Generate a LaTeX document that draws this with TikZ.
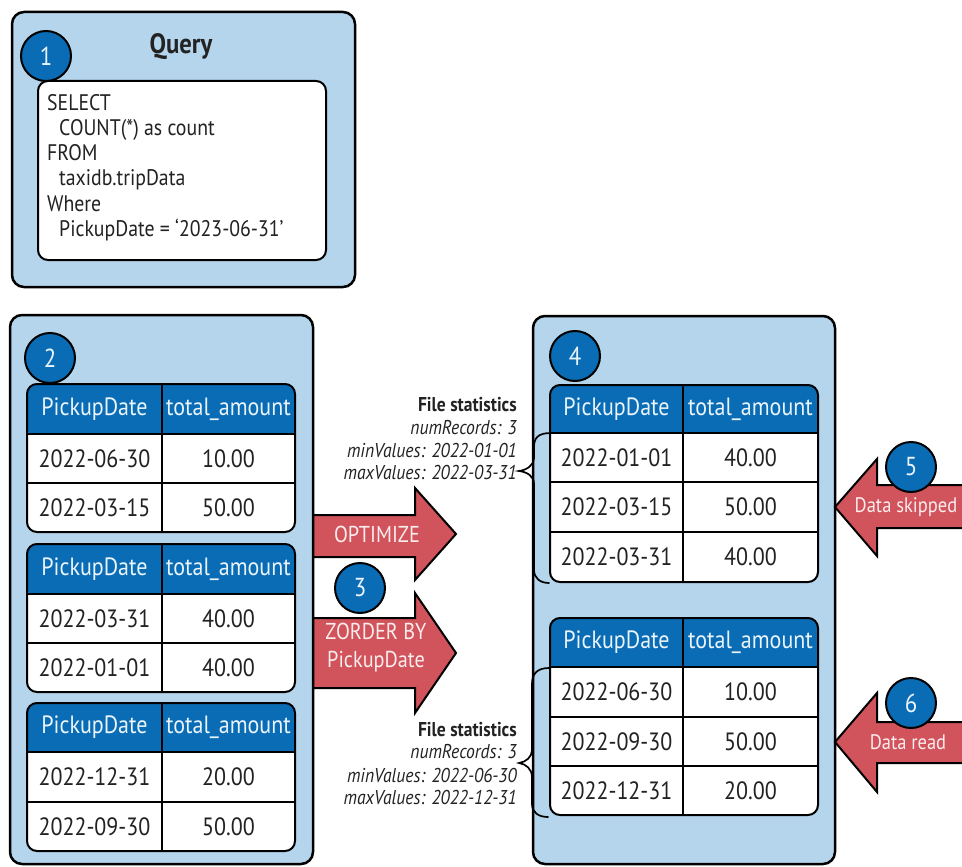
\documentclass[tikz,border=0pt]{standalone}
\usepackage{fontspec}
\setmainfont{PT Sans}[FakeStretch=0.88]
\definecolor{lblue}{HTML}{B4D5EC}
\definecolor{dblue}{HTML}{0B6CB6}
\definecolor{ared}{HTML}{D1535B}
\definecolor{htext}{HTML}{EAF4FB}
\definecolor{atext}{HTML}{FBEDEE}
\definecolor{ink}{HTML}{222222}
\newcommand\tframe[7]{%
  \fill[white, rounded corners=10] (#1,#4) rectangle (#3,#6);
  \begin{scope}
    \clip (#1,#4) rectangle (#3,#5);
    \fill[dblue, rounded corners=10] (#1,#4) rectangle (#3,#6);
  \end{scope}
  \draw[tline] (#1,#5) -- (#3,#5);
  \foreach \yy in {#7} {\draw[tline] (#1,\yy) -- (#3,\yy);}
  \draw[tline] (#2,#4) -- (#2,#6);
  \draw[tline, rounded corners=10] (#1,#4) rectangle (#3,#6);
}
\begin{document}
\begin{tikzpicture}[x=1pt,y=-1pt,
  bigbox/.style={draw=black, fill=lblue, line width=2.5pt, rounded corners=12},
  tline/.style={draw=black, line width=2pt},
  hdr/.style={text=htext, font=\fontsize{25}{28}\selectfont, inner sep=0pt},
  cell/.style={text=ink, font=\fontsize{25}{28}\selectfont, inner sep=0pt},
  num/.style={circle, draw=black, fill=dblue, line width=2pt, minimum size=50pt, inner sep=0pt, text=htext, font=\fontsize{26}{28}\selectfont},
  statb/.style={anchor=east, text=ink, inner sep=0pt, font=\bfseries\fontsize{20}{24}\selectfont},
  stati/.style={anchor=east, text=ink, inner sep=0pt, font=\itshape\fontsize{20}{24}\selectfont},
  arrowfill/.style={fill=ared},
  arrowline/.style={draw=black, line width=2pt, line join=miter},
  atxt/.style={text=atext, inner sep=0pt, font=\fontsize{23}{28}\selectfont, align=center},
  brace/.style={draw=black, line width=1.7pt, line cap=round}]
\useasboundingbox (0,0) rectangle (962,867);

% ---------- Query box ----------
\draw[bigbox] (12,12) rectangle (355,287);
\node[text=ink, font=\bfseries\fontsize{28}{32}\selectfont] (qtitle) at (181,47) {Query};
\draw[fill=white, draw=black, line width=2pt, rounded corners=10] (38,81) rectangle (326,260);
\node[anchor=north west, text=ink, inner sep=0pt, align=left,
      font=\fontsize{22.5}{25.2}\selectfont] (sql) at (47,94)
  {SELECT\\\hspace*{12pt}COUNT(*) as count\\FROM\\\hspace*{12pt}taxidb.tripData\\Where\\\hspace*{12pt}PickupDate = `2023-06-31'};
\node[num] (c1) at (46,56) {1};

% ---------- Arrows (3) ----------
\fill[arrowfill] (313,515) -- (415,515) -- (415,488) -- (456,534) -- (415,580) -- (415,557) -- (313,557) -- cycle;
\draw[arrowline] (313,515) -- (415,515) -- (415,488) -- (456,534) -- (415,580) -- (415,557) -- (313,557);
\node[atxt] (opt) at (377,534) {OPTIMIZE};
\fill[arrowfill] (313,618) -- (415,618) -- (415,593) -- (456,653) -- (415,713) -- (415,688) -- (313,688) -- cycle;
\draw[arrowline] (313,618) -- (415,618) -- (415,593) -- (456,653) -- (415,713) -- (415,688) -- (313,688);
\node[atxt, font=\fontsize{23}{28}\selectfont] (zord) at (376,648) {ZORDER BY\\PickupDate};
\node[num] (c3) at (360,588) {3};

% ---------- Box 2 ----------
\draw[bigbox] (10,315) rectangle (313,864);
\node[num] (c2) at (50,358) {2};

\tframe{27}{162}{295}{384}{434}{532}{483}
\node[hdr] (a1h1) at (94.5,409) {PickupDate};
\node[hdr] (a1h2) at (228.5,409) {total\_amount};
\node[cell] (a1r1d) at (94.5,458.5) {2022-06-30};
\node[cell] (a1r1v) at (228.5,458.5) {10.00};
\node[cell] (a1r2d) at (94.5,507.5) {2022-03-15};
\node[cell] (a1r2v) at (228.5,507.5) {50.00};

\tframe{27}{162}{295}{544}{594}{692}{643}
\node[hdr] (a2h1) at (94.5,569) {PickupDate};
\node[hdr] (a2h2) at (228.5,569) {total\_amount};
\node[cell] (a2r1d) at (94.5,618.5) {2022-03-31};
\node[cell] (a2r1v) at (228.5,618.5) {40.00};
\node[cell] (a2r2d) at (94.5,667.5) {2022-01-01};
\node[cell] (a2r2v) at (228.5,667.5) {40.00};

\tframe{27}{162}{295}{703}{752}{851}{802}
\node[hdr] (a3h1) at (94.5,727.5) {PickupDate};
\node[hdr] (a3h2) at (228.5,727.5) {total\_amount};
\node[cell] (a3r1d) at (94.5,777) {2022-12-31};
\node[cell] (a3r1v) at (228.5,777) {20.00};
\node[cell] (a3r2d) at (94.5,826.5) {2022-09-30};
\node[cell] (a3r2v) at (228.5,826.5) {50.00};

% ---------- Box 4 ----------
\draw[bigbox] (533,316) rectangle (835,864);
\node[num] (c4) at (575,356) {4};

\tframe{550}{683}{818}{385}{433}{582}{482,532}
\node[hdr] (b1h1) at (616.5,409) {PickupDate};
\node[hdr] (b1h2) at (750.5,409) {total\_amount};
\node[cell] (b1r1d) at (616.5,457.5) {2022-01-01};
\node[cell] (b1r1v) at (750.5,457.5) {40.00};
\node[cell] (b1r2d) at (616.5,507) {2022-03-15};
\node[cell] (b1r2v) at (750.5,507) {50.00};
\node[cell] (b1r3d) at (616.5,557) {2022-03-31};
\node[cell] (b1r3v) at (750.5,557) {40.00};

\tframe{550}{683}{818}{618}{667}{815}{717,766}
\node[hdr] (b2h1) at (616.5,642.5) {PickupDate};
\node[hdr] (b2h2) at (750.5,642.5) {total\_amount};
\node[cell] (b2r1d) at (616.5,692) {2022-06-30};
\node[cell] (b2r1v) at (750.5,692) {10.00};
\node[cell] (b2r2d) at (616.5,741.5) {2022-09-30};
\node[cell] (b2r2v) at (750.5,741.5) {50.00};
\node[cell] (b2r3d) at (616.5,790.5) {2022-12-31};
\node[cell] (b2r3v) at (750.5,790.5) {20.00};

% ---------- File statistics ----------
\node[statb] (fs1t) at (517,405) {File statistics};
\node[stati] (fs1a) at (517,428) {numRecords: 3};
\node[stati] (fs1b) at (517,450) {minValues: 2022-01-01};
\node[stati] (fs1c) at (517,472) {maxValues: 2022-03-31};
\node[statb] (fs2t) at (517,730) {File statistics};
\node[stati] (fs2a) at (517,752) {numRecords: 3};
\node[stati] (fs2b) at (517,775) {minValues: 2022-06-30};
\node[stati] (fs2c) at (517,797) {maxValues: 2022-12-31};

% braces
\draw[brace] (551,433) .. controls (538,433) and (534,438) .. (534,447)
  -- (534,458) .. controls (534,465) and (527,470) .. (519,471)
  .. controls (527,472) and (534,476) .. (534,484)
  -- (534,570) .. controls (534,578) and (540,583) .. (549,583);
\draw[brace] (549,668) .. controls (537,668) and (532,674) .. (532,684)
  -- (532,750) .. controls (532,757) and (526,762) .. (519,763)
  .. controls (526,764) and (532,769) .. (532,777)
  -- (532,804) .. controls (532,812) and (538,817) .. (548,817);

% ---------- Arrows (5) and (6) ----------
\fill[arrowfill] (835,507) -- (877,459) -- (877,485) -- (962,485) -- (962,528) -- (877,528) -- (877,556) -- cycle;
\draw[arrowline] (962,485) -- (877,485) -- (877,459) -- (835,507) -- (877,556) -- (877,528) -- (962,528);
\node[atxt, font=\fontsize{21}{24}\selectfont] (dskip) at (906,507) {Data skipped};
\node[num] (c5) at (911,467) {5};

\fill[arrowfill] (835,742) -- (877,693) -- (877,722) -- (962,722) -- (962,763) -- (877,763) -- (877,792) -- cycle;
\draw[arrowline] (962,722) -- (877,722) -- (877,693) -- (835,742) -- (877,792) -- (877,763) -- (962,763);
\node[atxt, font=\fontsize{21}{24}\selectfont] (dread) at (908,742) {Data read};
\node[num] (c6) at (911,703) {6};
\end{tikzpicture}
\end{document}
